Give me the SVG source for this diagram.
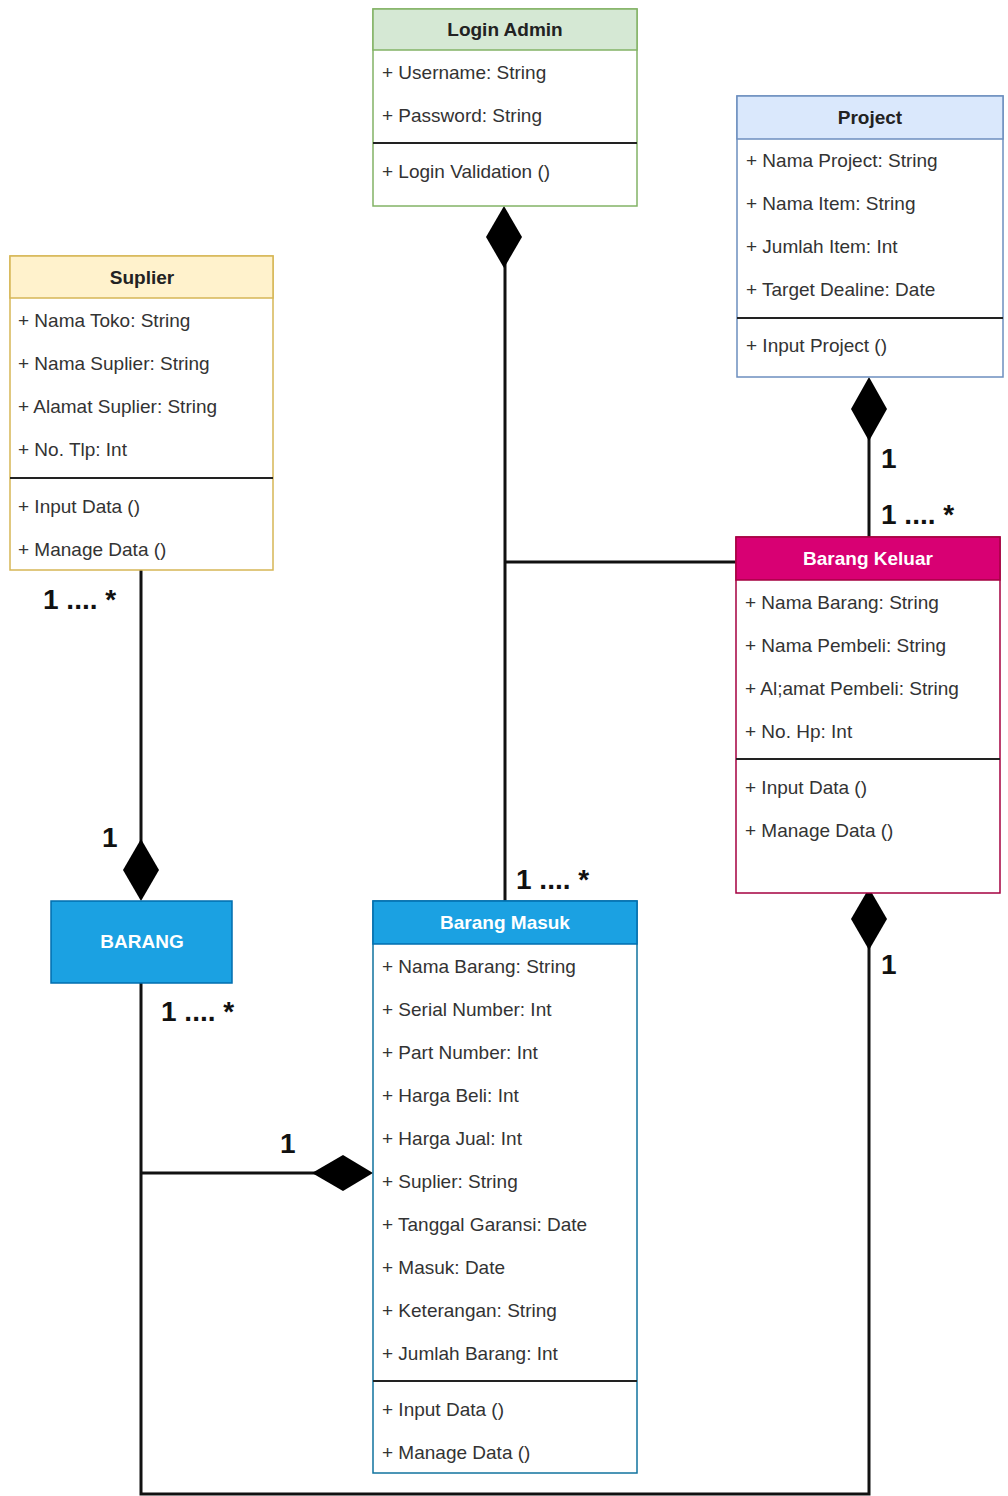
<svg xmlns="http://www.w3.org/2000/svg" width="1008" height="1496" viewBox="0 0 1008 1496">
<style>
.t{font-family:"Liberation Sans",Arial,sans-serif;font-size:19px;fill:#333}
.h{font-family:"Liberation Sans",Arial,sans-serif;font-size:19px;font-weight:bold;text-anchor:middle}
.l{font-family:"Liberation Sans",Arial,sans-serif;font-size:28px;font-weight:bold;fill:#111}
.c{fill:none;stroke:#111;stroke-width:3}
.d{fill:#000;stroke:none}
.div{stroke:#222;stroke-width:2}
</style>
<rect width="1008" height="1496" fill="#fff"/>
<g id="connectors">
<line class="c" x1="505" y1="262" x2="505" y2="901"/>
<line class="c" x1="505" y1="562" x2="736" y2="562"/>
<line class="c" x1="869" y1="436" x2="869" y2="537"/>
<line class="c" x1="141" y1="570" x2="141" y2="845"/>
<polyline class="c" points="141,983 141,1494 869,1494 869,945"/>
<line class="c" x1="141" y1="1173" x2="318" y2="1173"/>
<path class="d" d="M504,206 L522,237 L504,268 L486,237 Z"/>
<path class="d" d="M869,377 L887,409 L869,441 L851,409 Z"/>
<path class="d" d="M141,839 L159,870 L141,901 L123,870 Z"/>
<path class="d" d="M869,888 L887,919 L869,950 L851,919 Z"/>
<path class="d" d="M373,1173 L343,1191 L312,1173 L343,1155 Z"/>
<text class="l" x="881" y="468">1</text>
<text class="l" x="881" y="524">1 .... *</text>
<text class="l" x="43" y="609">1 .... *</text>
<text class="l" x="102" y="847">1</text>
<text class="l" x="516" y="889">1 .... *</text>
<text class="l" x="161" y="1021">1 .... *</text>
<text class="l" x="881" y="974">1</text>
<text class="l" x="280" y="1153">1</text>
</g>
<g id="login-admin">
<rect x="373" y="9" width="264" height="197" fill="#fff" stroke="#82b366" stroke-width="1.5"/>
<rect x="373" y="9" width="264" height="41" fill="#d5e8d4" stroke="#82b366" stroke-width="1.5"/>
<text class="h" x="505" y="36" fill="#222">Login Admin</text>
<text class="t" x="382" y="79">+ Username: String</text>
<text class="t" x="382" y="122">+ Password: String</text>
<line class="div" x1="373" y1="143" x2="637" y2="143"/>
<text class="t" x="382" y="178">+ Login Validation ()</text>
</g>
<g id="project">
<rect x="737" y="96" width="266" height="281" fill="#fff" stroke="#6c8ebf" stroke-width="1.5"/>
<rect x="737" y="96" width="266" height="43" fill="#dae8fc" stroke="#6c8ebf" stroke-width="1.5"/>
<text class="h" x="870" y="124" fill="#222">Project</text>
<text class="t" x="746" y="167">+ Nama Project: String</text>
<text class="t" x="746" y="210">+ Nama Item: String</text>
<text class="t" x="746" y="253">+ Jumlah Item: Int</text>
<text class="t" x="746" y="296">+ Target Dealine: Date</text>
<line class="div" x1="737" y1="318" x2="1003" y2="318"/>
<text class="t" x="746" y="352">+ Input Project ()</text>
</g>
<g id="suplier">
<rect x="10" y="256" width="263" height="314" fill="#fff" stroke="#d6b656" stroke-width="1.5"/>
<rect x="10" y="256" width="263" height="42" fill="#fff2cc" stroke="#d6b656" stroke-width="1.5"/>
<text class="h" x="142" y="284" fill="#222">Suplier</text>
<text class="t" x="18" y="327">+ Nama Toko: String</text>
<text class="t" x="18" y="370">+ Nama Suplier: String</text>
<text class="t" x="18" y="413">+ Alamat Suplier: String</text>
<text class="t" x="18" y="456">+ No. Tlp: Int</text>
<line class="div" x1="10" y1="478" x2="273" y2="478"/>
<text class="t" x="18" y="513">+ Input Data ()</text>
<text class="t" x="18" y="556">+ Manage Data ()</text>
</g>
<g id="barang-keluar">
<rect x="736" y="537" width="264" height="356" fill="#fff" stroke="#a50040" stroke-width="1.5"/>
<rect x="736" y="537" width="264" height="43" fill="#d80073" stroke="#a50040" stroke-width="1.5"/>
<text class="h" x="868" y="565" fill="#fff">Barang Keluar</text>
<text class="t" x="745" y="609">+ Nama Barang: String</text>
<text class="t" x="745" y="652">+ Nama Pembeli: String</text>
<text class="t" x="745" y="695">+ Al;amat Pembeli: String</text>
<text class="t" x="745" y="738">+ No. Hp: Int</text>
<line class="div" x1="736" y1="759" x2="1000" y2="759"/>
<text class="t" x="745" y="794">+ Input Data ()</text>
<text class="t" x="745" y="837">+ Manage Data ()</text>
</g>
<g id="barang">
<rect x="51" y="901" width="181" height="82" fill="#1ba1e2" stroke="#006eaf" stroke-width="1.5"/>
<text class="h" x="142" y="948" fill="#fff">BARANG</text>
</g>
<g id="barang-masuk">
<rect x="373" y="901" width="264" height="572" fill="#fff" stroke="#10739e" stroke-width="1.5"/>
<rect x="373" y="901" width="264" height="43" fill="#1ba1e2" stroke="#006eaf" stroke-width="1.5"/>
<text class="h" x="505" y="929" fill="#fff">Barang Masuk</text>
<text class="t" x="382" y="973">+ Nama Barang: String</text>
<text class="t" x="382" y="1016">+ Serial Number: Int</text>
<text class="t" x="382" y="1059">+ Part Number: Int</text>
<text class="t" x="382" y="1102">+ Harga Beli: Int</text>
<text class="t" x="382" y="1145">+ Harga Jual: Int</text>
<text class="t" x="382" y="1188">+ Suplier: String</text>
<text class="t" x="382" y="1231">+ Tanggal Garansi: Date</text>
<text class="t" x="382" y="1274">+ Masuk: Date</text>
<text class="t" x="382" y="1317">+ Keterangan: String</text>
<text class="t" x="382" y="1360">+ Jumlah Barang: Int</text>
<line class="div" x1="373" y1="1381" x2="637" y2="1381"/>
<text class="t" x="382" y="1416">+ Input Data ()</text>
<text class="t" x="382" y="1459">+ Manage Data ()</text>
</g>
</svg>
